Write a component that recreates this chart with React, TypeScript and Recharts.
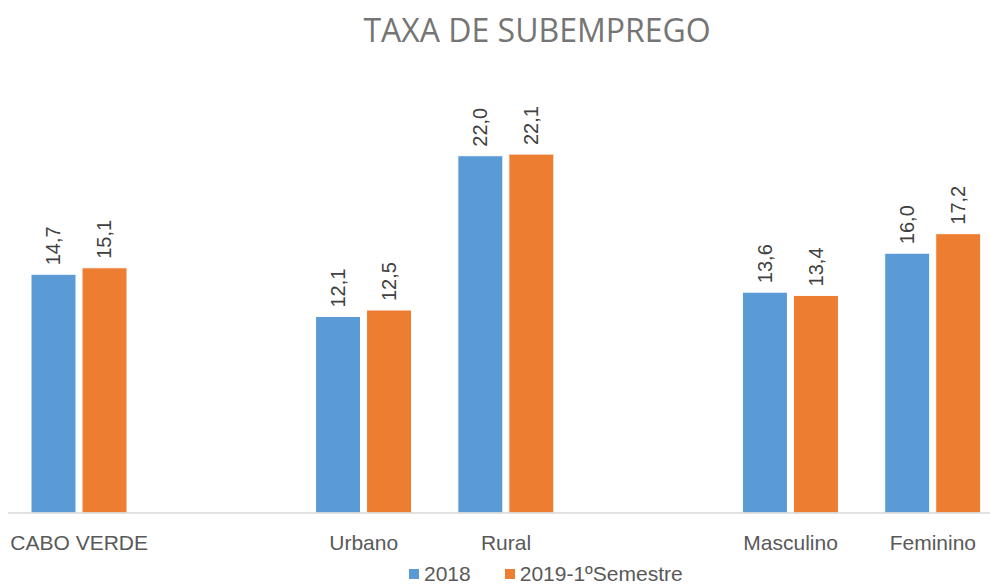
import React from 'react';
import { BarChart, Bar, XAxis, YAxis, LabelList, Legend } from 'recharts';

const categories = ['CABO VERDE', ' ', 'Urbano', 'Rural', '  ', 'Masculino', 'Feminino'];
const series2018 = [14.7, null, 12.1, 22.0, null, 13.6, 16.0];
const series2019 = [15.1, null, 12.5, 22.1, null, 13.4, 17.2];
const seriesNames = ['2018', '2019-1ºSemestre'];
const colors = ['#5B9BD5', '#ED7D31'];

const data = categories.map((name, i) => ({ name, s2018: series2018[i], s2019: series2019[i] }));

const fmt = (v: any) => (v == null ? '' : Number(v).toFixed(1).replace('.', ','));

const RotLabel = (props: any) => {
  const { x, y, width, value } = props;
  if (value == null) return null;
  const cx = x + width / 2;
  const cy = y - 9;
  return (
    <text
      x={cx}
      y={cy}
      transform={`rotate(-90 ${cx} ${cy})`}
      textAnchor="start"
      dominantBaseline="central"
      fill="#404040"
      fontSize={20}
      fontFamily="'Liberation Sans', Arial, sans-serif"
    >
      {fmt(value)}
    </text>
  );
};

const Tick = (props: any) => {
  const { x, y, payload } = props;
  return (
    <text x={x} y={y + 29} textAnchor="middle" fill="#595959" fontSize={21} fontFamily="'Liberation Sans', Arial, sans-serif">
      {payload.value}
    </text>
  );
};

const LegendContent = () => (
  <div style={{ display: 'flex', alignItems: 'center', fontFamily: "'Liberation Sans', Arial, sans-serif", fontSize: 21, color: '#595959' }}>
    {seriesNames.map((n, i) => (
      <div key={n} style={{ display: 'flex', alignItems: 'center', marginRight: 34 }}>
        <div style={{ width: 10, height: 10, background: colors[i], marginRight: 5 }} />
        <span style={{ lineHeight: '24px' }}>{n}</span>
      </div>
    ))}
  </div>
);

export default function App() {
  return (
    <div style={{ position: 'fixed', left: 0, top: 0, width: 990, height: 584, overflow: 'hidden', background: '#fff' }}>
      <div
        style={{
          position: 'absolute',
          left: 0,
          width: 1074,
          top: 14,
          textAlign: 'center',
          fontFamily: "'Open Sans', sans-serif",
          fontSize: 32,
          lineHeight: '32px',
          color: '#757575',
          zIndex: 2,
        }}
      >
        TAXA DE SUBEMPREGO
      </div>
      <BarChart
        width={1010}
        height={584}
        data={data}
        margin={{ top: 107, right: 6, bottom: 17, left: 8 }}
        barGap={6}
        barSize={45}
      >
        <XAxis
          dataKey="name"
          axisLine={{ stroke: '#D9D9D9', strokeWidth: 1.5 }}
          tickLine={false}
          tick={<Tick />}
          interval={0}
        />
        <YAxis hide domain={[0, 25]} />
        <Legend
          content={<LegendContent />}
          wrapperStyle={{ position: 'absolute', left: 409, top: 562, width: 500 }}
        />
        <Bar dataKey="s2018" name={seriesNames[0]} fill={colors[0]} stroke="#fff" strokeWidth={1} isAnimationActive={false}>
          <LabelList dataKey="s2018" content={<RotLabel />} />
        </Bar>
        <Bar dataKey="s2019" name={seriesNames[1]} fill={colors[1]} stroke="#fff" strokeWidth={1} isAnimationActive={false}>
          <LabelList dataKey="s2019" content={<RotLabel />} />
        </Bar>
      </BarChart>
    </div>
  );
}
